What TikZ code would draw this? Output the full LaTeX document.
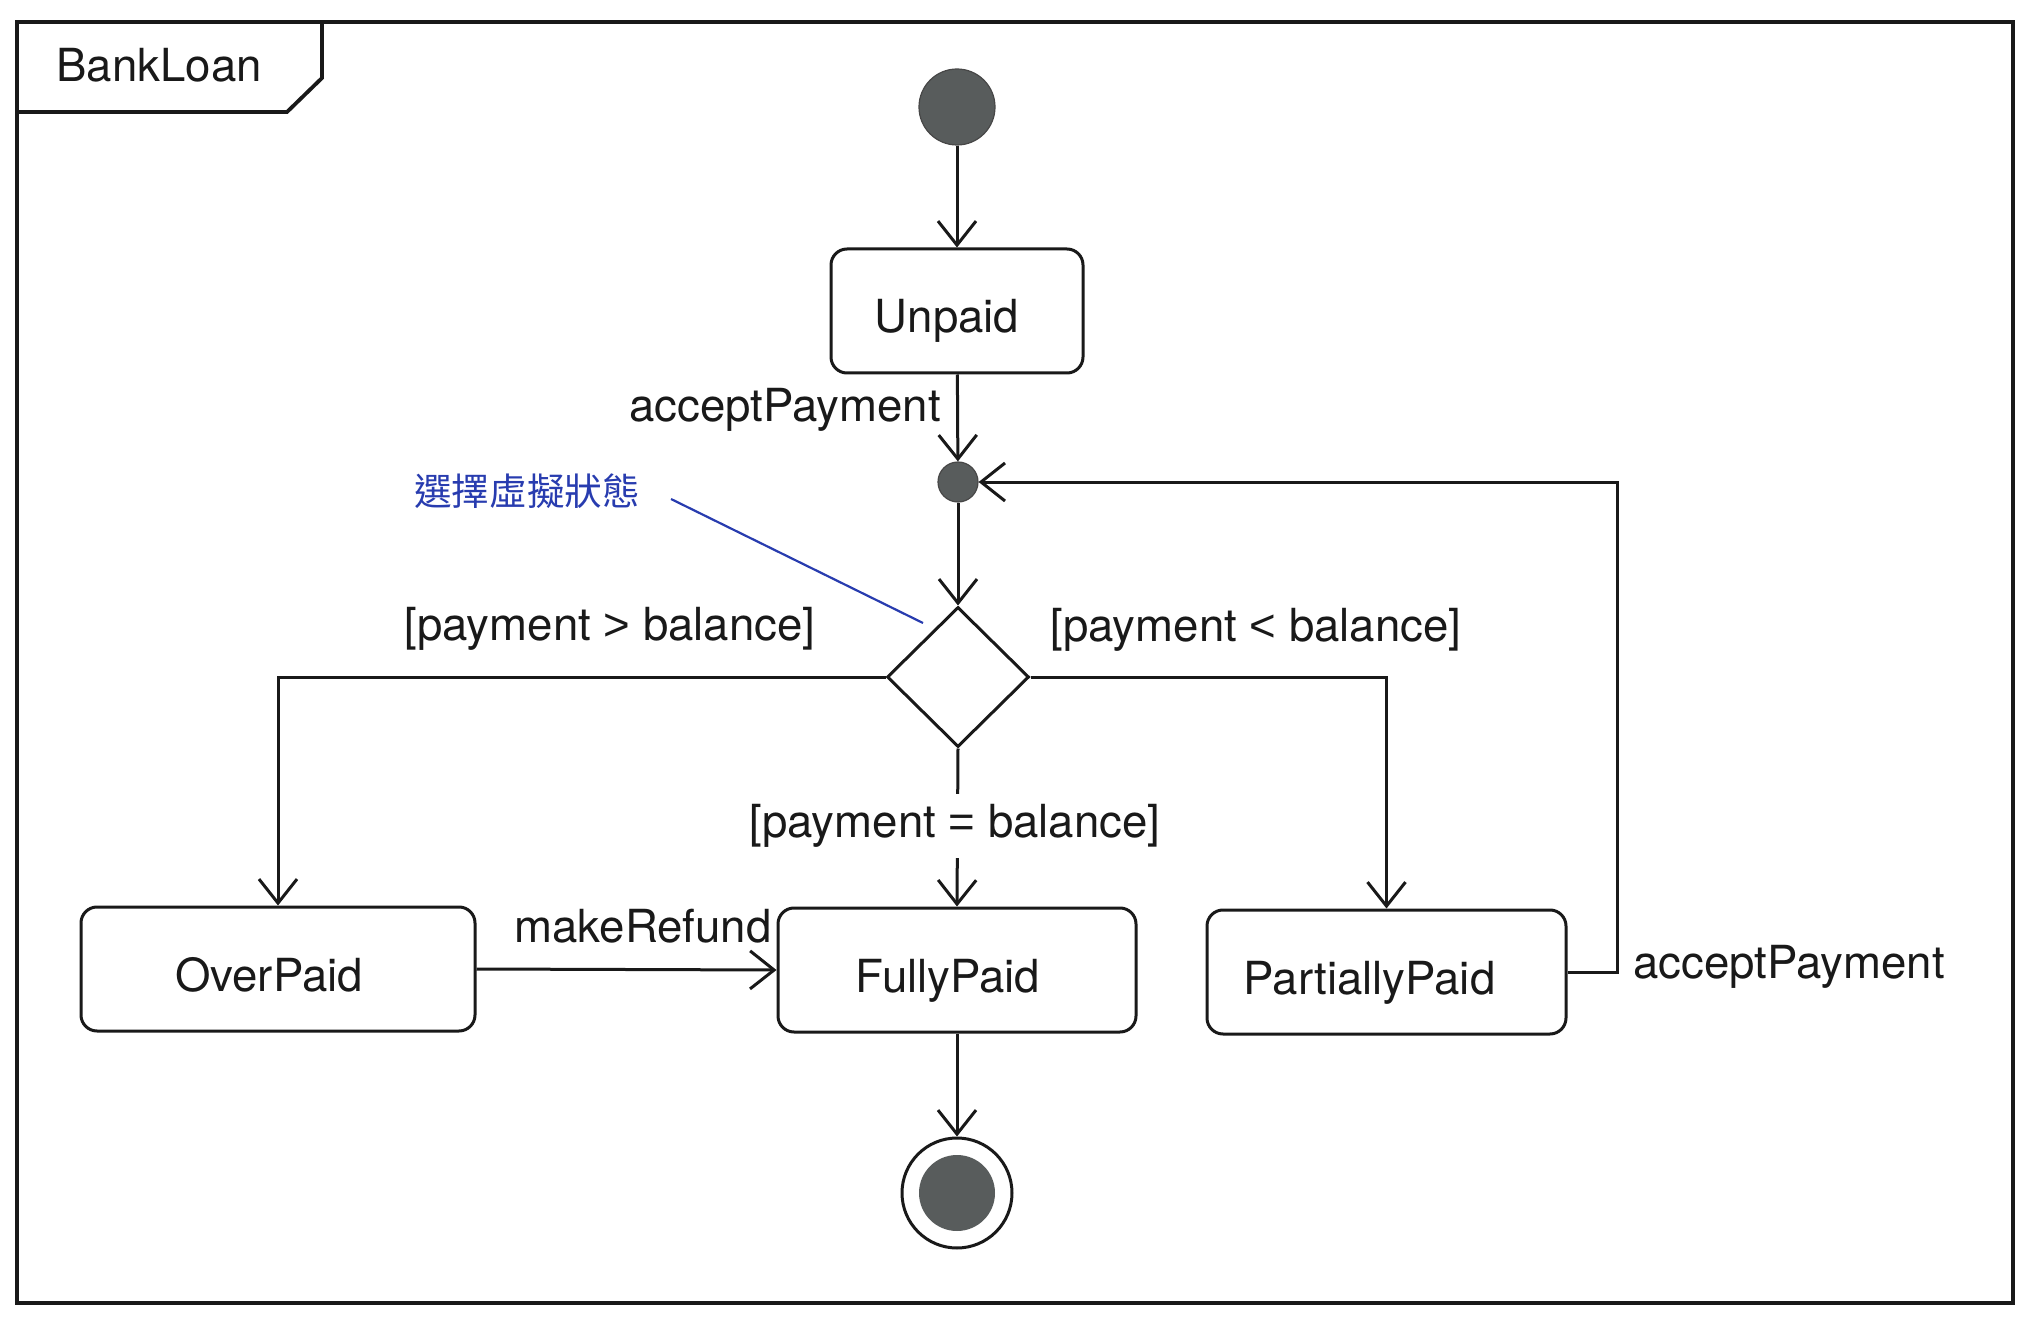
\documentclass[tikz,border=0pt]{standalone}
\usepackage{fontspec}
\setmainfont{TeX Gyre Heros}
\newfontfamily\symfont{Liberation Sans}
\newfontfamily\cjkfont{Noto Sans CJK TC}
\usetikzlibrary{arrows.meta,shapes.geometric}
\definecolor{dotgray}{RGB}{88,92,92}
\definecolor{noteblue}{RGB}{40,60,175}
\definecolor{ink}{RGB}{25,25,25}
\begin{document}
\begin{tikzpicture}[x=0.5pt,y=-0.5pt,
  font=\fontsize{22.8pt}{26pt}\selectfont,
  every node/.style={inner sep=0pt, text=ink},
  statebox/.style={draw=ink, line width=1.5pt, rounded corners=8pt, minimum height=62pt, text height=22pt, text depth=0pt},
  pseudo/.style={circle, fill=dotgray, draw=ink!80, line width=0.6pt},
  arr/.style={draw=ink, line width=1.5pt, -{Straight Barb[length=12pt,width=19pt]}},
  frameline/.style={draw=ink, line width=1.9pt},
  noteline/.style={draw=noteblue, line width=1.1pt}]
\useasboundingbox (0,0) rectangle (2026,1321);
% frame
\draw[frameline] (17,22) rectangle (2013,1303);
\draw[frameline] (17,112) -- (287,112) -- (322,78) -- (322,22);
\node[anchor=base west] (title) at (56,82) {BankLoan};
% states
\node[pseudo, minimum size=38pt] (init) at (957,107) {};
\node[statebox, minimum width=126pt] (unpaid) at (957,311) {\hspace*{-10pt}Unpaid};
\node[pseudo, minimum size=20pt] (junc) at (958,482) {};
\node[diamond, draw=ink, line width=1.5pt, minimum width=71pt, minimum height=70pt] (dec) at (958,677) {};
\node[statebox, minimum width=197pt] (op) at (278,969) {\hspace*{-9pt}OverPaid};
\node[statebox, minimum width=179pt] (fp) at (957,970) {\hspace*{-9pt}FullyPaid};
\node[statebox, minimum width=179.5pt] (pp) at (1386.5,972) {\hspace*{-17pt}PartiallyPaid};
\node[circle, draw=ink, line width=1.5pt, minimum size=55pt] (final) at (957,1193) {};
\fill[dotgray] (final.center) circle[radius=19pt];
% connectors
\draw[arr] (init) -- (unpaid);
\draw[arr] (unpaid) -- (junc);
\draw[arr] (junc) -- (dec);
\draw[arr] (dec.west) -| (op.north);
\draw[arr] (dec.east) -| (pp.north);
\draw[arr] (dec.south) -- (fp.north);
\draw[arr] (op.east) -- (fp.west);
\draw[arr] (fp) -- (final);
\coordinate (loopTop) at (1617,482);
\draw[arr] (pp.east) -| (loopTop) -- (junc.east);
\coordinate (noteA) at (671,499);
\coordinate (noteB) at (923,623);
\draw[noteline] (noteA) -- (noteB);
% labels
\node (lAccept) at (785,410) {acceptPayment};
\node (lGt) at (610,629) {[payment {\symfont >} balance]};
\node (lLt) at (1256,630) {[payment {\symfont <} balance]};
\node[fill=white, inner ysep=5pt] (lEq) at (955,826) {[payment {\symfont =} balance]};
\node (lRefund) at (643,926) {makeRefund};
\node (lAccept2) at (1789,967) {acceptPayment};
\node[text=noteblue, font=\cjkfont\fontsize{18.8pt}{22pt}\selectfont] (note) at (527,491) {選擇虛擬狀態};
\end{tikzpicture}
\end{document}
